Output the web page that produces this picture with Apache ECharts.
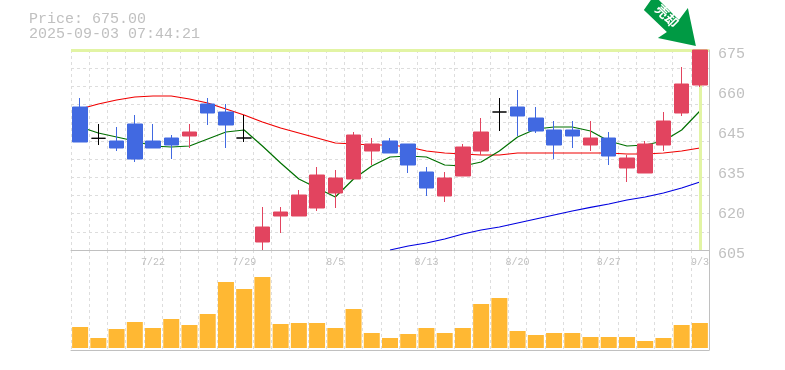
<!DOCTYPE html>
<html>
<head>
<meta charset="utf-8">
<style>html,body{margin:0;padding:0;background:#fff}#c{width:785px;height:370px}</style>
<script src="https://cdn.jsdelivr.net/npm/echarts@6/dist/echarts.min.js"></script>
</head>
<body>
<div id="c"></div>
<script>
const dates = ['7/15','7/16','7/17','7/18','7/22','7/23','7/24','7/25','7/28','7/29','7/30','7/31','8/1','8/4','8/5','8/6','8/7','8/8','8/12','8/13','8/14','8/15','8/18','8/19','8/20','8/21','8/22','8/25','8/26','8/27','8/28','8/29','9/1','9/2','9/3'];
const shownDates = ['7/22','7/29','8/5','8/13','8/20','8/27','9/3'];
const opens  = [655.05,644.1,643.15,649.1,643.15,644.2,644.9,656.1,653.3,644.2,607.8,616.9,616.9,619.7,624.95,629.85,639.65,643.15,642.1,632.3,623.9,630.9,639.65,653.3,655.05,651.2,647,647,641.75,644.2,633.7,631.95,641.75,652.95,662.75];
const closes = [642.8,644.1,640.7,636.85,640.7,641.75,646.3,652.95,648.75,644.2,613.05,618.3,624.25,631.25,630.2,645.25,642.1,638.95,634.75,626.7,630.2,641.05,646.3,653.3,651.9,646.65,641.75,644.9,644.2,637.9,637.2,642.1,650.15,663.1,675];
const lows   = [642.8,641.75,639.65,635.8,640.7,636.85,640.7,648.75,640.7,642.8,605,610.95,616.9,618.65,619.7,629.85,634.75,638.95,631.95,623.9,621.8,630.9,638.25,646.65,644.9,645.95,636.85,640.7,639.65,634.75,628.8,631.95,639.65,651.9,662.05];
const highs  = [658.2,649.1,648.05,652.25,649.1,645.25,649.1,658.2,656.1,652.25,620.05,620.05,626,634.05,633,646.3,644.2,644.2,642.1,634.05,632.3,642.1,651.2,658.2,661,655.05,650.15,650.15,650.15,646.3,638.25,643.15,653.3,669.05,675];
const volumes = [21,10,19,26,20,29,23,34,66,59,71,24,25,25,20,39,15,10,14,20,15,20,44,50,17,13,15,15,11,11,11,7,10,23,25];
const maLong = [654.35,656.1,657.5,658.55,658.9,658.9,657.85,656.45,654.35,652.25,649.8,647.7,645.95,644.2,642.45,642.1,641.75,641.75,641.05,639.65,638.95,638.6,638.25,638.25,638.95,638.95,638.95,638.95,638.95,638.95,638.6,638.6,638.95,639.65,640.7];
const maShort = [648.05,645.95,644.55,643.15,641.4,641.05,641.4,643.85,646.3,647,641.4,635.45,629.85,626.7,623.55,629.85,634.4,637.55,637.9,637.55,634.75,634.4,635.8,639.65,644.55,647.35,648.05,648.05,646.65,643.15,641.4,641.75,643.15,647,653.65];
const maTrend = [null,null,null,null,null,null,null,null,null,null,null,null,null,null,null,null,null,605,606.4,607.45,608.85,610.6,612,613.05,614.45,615.85,617.25,618.65,619.9,621.1,622.5,623.55,624.95,626.7,628.8];
const priceTicks = [605,619,633,647,661,675];
const priceTickLabels = ['605','620','635','645','660','675'];
const titleText = 'Price: 675.00\n2025-09-03 07:44:21';
const signalText = '売却';

const grey = '#c0c0c0';
const gridLine = {show:true,lineStyle:{color:'#dddddd',type:[3,3],width:1}};
const mono = 'Liberation Mono';
const candleData = dates.map((d,i)=>[opens[i],closes[i],lows[i],highs[i]]);
const arrow = 'path://M644 10L651 0L659 0L679 20L688 8L696 46L658 38L667 32Z';

const chart = echarts.init(document.getElementById('c'),null,{renderer:'canvas'});
chart.setOption({
  animation:false,
  backgroundColor:'#fff',
  title:{text:titleText,left:29,top:12,padding:0,textStyle:{fontFamily:mono,fontSize:15,fontWeight:'normal',color:grey,lineHeight:15}},
  grid:[
    {left:71,top:50,width:638,height:200},
    {left:71,top:250,width:638,height:100}
  ],
  xAxis:[
    {type:'category',gridIndex:0,data:dates,boundaryGap:true,
     axisLine:{show:true,lineStyle:{color:grey,width:1}},axisTick:{show:false},
     axisLabel:{show:true,interval:(i,v)=>shownDates.includes(v),margin:7,color:grey,fontFamily:mono,fontSize:10,hideOverlap:false},
     splitLine:Object.assign({interval:0},gridLine)},
    {type:'category',gridIndex:1,data:dates,boundaryGap:true,
     axisLine:{show:true,onZero:false,lineStyle:{color:grey,width:1}},axisTick:{show:false},axisLabel:{show:false},
     splitLine:Object.assign({interval:0},gridLine)}
  ],
  yAxis:[
    {type:'value',gridIndex:0,position:'right',min:605,max:675,
     axisLine:{show:true,lineStyle:{color:grey,width:1}},axisTick:{show:false},splitLine:{show:false},
     axisLabel:{show:true,customValues:priceTicks,margin:9,verticalAlign:'top',lineHeight:8,color:grey,fontFamily:mono,fontSize:15,
       formatter:v=>priceTickLabels[priceTicks.indexOf(v)]}},
    {type:'value',gridIndex:0,position:'left',min:0,max:11,interval:1,
     axisLine:{show:false},axisTick:{show:false},axisLabel:{show:false},splitLine:gridLine},
    {type:'value',gridIndex:1,position:'right',min:-2,max:98,
     axisLine:{show:true,lineStyle:{color:grey,width:1}},axisTick:{show:false},axisLabel:{show:false},splitLine:{show:false}}
  ],
  series:[
    {type:'line',name:'band',xAxisIndex:0,yAxisIndex:0,data:[],z:2,silent:true,
     markLine:{silent:true,symbol:'none',animation:false,label:{show:false},
       lineStyle:{color:'#e2f4a4',width:3,type:'solid'},
       data:[{yAxis:675},{xAxis:dates[dates.length-1]}]}},
    {type:'line',name:'long',xAxisIndex:0,yAxisIndex:0,data:maLong,showSymbol:false,z:3,lineStyle:{color:'#f00000',width:1.2}},
    {type:'line',name:'short',xAxisIndex:0,yAxisIndex:0,data:maShort,showSymbol:false,z:3,lineStyle:{color:'#007000',width:1.2}},
    {type:'line',name:'trend',xAxisIndex:0,yAxisIndex:0,data:maTrend,showSymbol:false,z:3,lineStyle:{color:'#0000e0',width:1.2}},
    {type:'candlestick',name:'price',xAxisIndex:0,yAxisIndex:0,data:candleData,barWidth:15,z:5,
     itemStyle:{color:'#e2445f',color0:'#4169e1',borderColor:'#e2445f',borderColor0:'#4169e1',borderColorDoji:'#000000',borderWidth:1},
     markPoint:{silent:true,animation:false,
       data:[{coord:[dates[dates.length-1],675],symbol:arrow,symbolSize:[52,46],symbolKeepAspect:false,symbolOffset:[-30,-27],
         itemStyle:{color:'#009a44',borderWidth:0},
         label:{show:true,formatter:signalText,rotate:-45,position:'inside',offset:[-7,-3],color:'#fff',fontSize:13,fontWeight:'bold',fontFamily:'Noto Sans CJK JP'}}]}},
    {type:'bar',name:'volume',xAxisIndex:1,yAxisIndex:2,data:volumes,barWidth:16,itemStyle:{color:'#ffb833'},z:4}
  ]
});
</script>
</body>
</html>
